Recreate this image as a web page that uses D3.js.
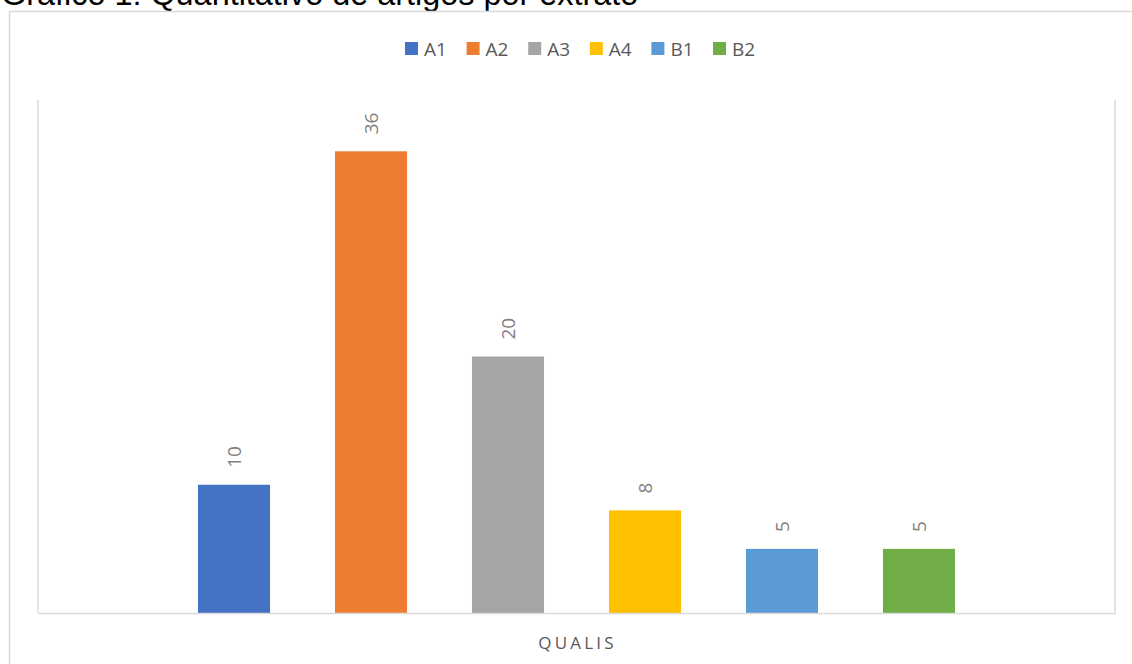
<!DOCTYPE html>
<html>
<head>
<meta charset="utf-8">
<script src="https://cdn.jsdelivr.net/npm/d3@7"></script>
<style>
  body { margin: 0; background: #fff; }
</style>
</head>
<body>
<div id="chart-area"></div>
<script>
// dados
var series = ["A1", "A2", "A3", "A4", "B1", "B2"];
var values = [10, 36, 20, 8, 5, 5];
var colors = ["#4472c4", "#ed7d31", "#a5a5a5", "#ffc000", "#5b9bd5", "#70ad47"];
var axisTitle = "QUALIS";
var title = "Gráfico 1: Quantitativo de artigos por extrato";

var W = 1132, H = 664;
var plot = {left: 38, right: 1115, top: 100, bottom: 613};

var svg = d3.select("#chart-area")
  .append("svg")
    .attr("width", W)
    .attr("height", H);

// titulo (cortado no topo, como na imagem original)
svg.append("text")
    .attr("x", 1)
    .attr("y", 5)
    .attr("font-family", "Liberation Sans, Arial, sans-serif")
    .attr("font-size", "32.4px")
    .attr("fill", "#000")
    .text(title);

// borda externa
svg.append("rect")
    .attr("x", 9.5)
    .attr("y", 11.5)
    .attr("width", W + 20)
    .attr("height", H + 20)
    .attr("fill", "none")
    .attr("stroke", "#d9d9d9")
    .attr("stroke-width", 1.5);

var x = d3.scaleBand()
    .domain(series)
    .range([plot.left, plot.right])
    .paddingInner(0.474)
    .paddingOuter(1.168);

var y = d3.scaleLinear()
    .domain([0, 40])
    .range([plot.bottom, plot.top]);

// linhas laterais da area do grafico
[plot.left, plot.right].forEach((px) => {
  svg.append("line")
      .attr("x1", px).attr("x2", px)
      .attr("y1", plot.top).attr("y2", plot.bottom)
      .attr("stroke", "#d9d9d9")
      .attr("stroke-width", 1.5);
});

var data = series.map((s, i) => ({name: s, value: values[i], color: colors[i]}));

svg.selectAll("rect.bar").data(data)
  .enter()
  .append("rect")
    .attr("class", "bar")
    .attr("x", (d) => x(d.name))
    .attr("y", (d) => y(d.value))
    .attr("width", x.bandwidth())
    .attr("height", (d) => y(0) - y(d.value))
    .attr("fill", (d) => d.color);

// rotulos
svg.selectAll("text.label").data(data)
  .enter()
  .append("text")
    .attr("class", "label")
    .attr("transform", (d) => "translate(" + (x(d.name) + x.bandwidth() / 2) + "," + (y(d.value) - 17) + ") rotate(-90)")
    .attr("text-anchor", "start")
    .attr("dominant-baseline", "central")
    .attr("font-family", "Open Sans, sans-serif")
    .attr("font-size", "19px")
    .attr("fill", "#7f7f7f")
    .text((d) => d.value);

// eixo x (linha)
var xAxis = d3.axisBottom(x).tickSize(0).tickFormat("");
svg.append("g")
    .attr("transform", "translate(0," + plot.bottom + ")")
    .call(xAxis)
    .select(".domain")
    .attr("stroke", "#d9d9d9")
    .attr("stroke-width", 1.5);

svg.append("text")
    .attr("x", (plot.left + plot.right) / 2 + 1)
    .attr("y", 649)
    .attr("text-anchor", "middle")
    .attr("font-family", "Open Sans, sans-serif")
    .attr("font-size", "17px")
    .attr("letter-spacing", "3.2px")
    .attr("fill", "#595959")
    .text(axisTitle);

// legenda
var legend = svg.append("g");
var items = legend.selectAll("g").data(data)
  .enter()
  .append("g")
    .attr("transform", (d, i) => "translate(" + (405 + i * 61.6) + ",42)");
items.append("rect")
    .attr("width", 13)
    .attr("height", 13)
    .attr("fill", (d) => d.color);
items.append("text")
    .attr("x", 19)
    .attr("y", 13.5)
    .attr("font-family", "Open Sans, sans-serif")
    .attr("font-size", "19px")
    .attr("fill", "#595959")
    .text((d) => d.name);
</script>
</body>
</html>
